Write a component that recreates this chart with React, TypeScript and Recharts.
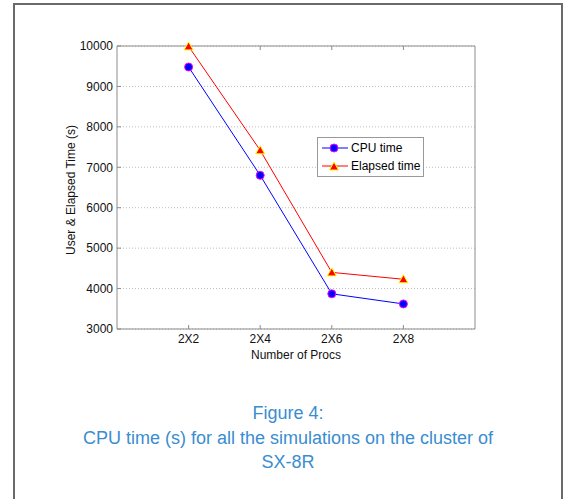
import { LineChart, Line, XAxis, YAxis, CartesianGrid, Legend } from 'recharts';

// processor layouts and measured times (seconds)
const procs = ['2X2', '2X4', '2X6', '2X8'];
const cpuTime = [9480, 6800, 3870, 3620];
const elapsedTime = [9990, 7420, 4400, 4230];
const yTicks = [3000, 4000, 5000, 6000, 7000, 8000, 9000, 10000];

const captionLines = [
  'Figure 4:',
  'CPU time (s) for all the simulations on the cluster of',
  'SX-8R',
];

const data = procs.map((p, i) => ({
  x: i + 1,
  proc: p,
  cpu: cpuTime[i],
  elapsed: elapsedTime[i],
}));

const FONT = '"Liberation Sans", Arial, Helvetica, sans-serif';
const AXIS = '#8c8c8c';

const CircleMark = ({ cx, cy }: { cx: number; cy: number }) => (
  <circle cx={cx} cy={cy} r={4} fill="#0000ff" stroke="#ff00ff" strokeWidth={1} />
);

const TriangleMark = ({ cx, cy }: { cx: number; cy: number }) => (
  <path
    d={`M${cx},${cy - 4.5} L${cx + 4.5},${cy + 3.5} L${cx - 4.5},${cy + 3.5} Z`}
    fill="#ff0000"
    stroke="#ffff00"
    strokeWidth={1}
  />
);

function LegendBox() {
  const rows = [
    { label: 'CPU time', color: '#0000ff', mark: 'circle' },
    { label: 'Elapsed time', color: '#ff0000', mark: 'triangle' },
  ];
  return (
    <div
      style={{
        boxSizing: 'border-box',
        width: 107,
        height: 40,
        border: '1px solid #999',
        background: '#fff',
        padding: '1px 0 0 3px',
        fontFamily: FONT,
        fontSize: 12,
        color: '#000',
        whiteSpace: 'nowrap',
      }}
    >
      {rows.map((r) => (
        <div key={r.label} style={{ display: 'flex', alignItems: 'center', height: 18 }}>
          <svg width={28} height={12} style={{ marginRight: 2, flexShrink: 0 }}>
            <line x1={1} y1={6} x2={27} y2={6} stroke={r.color} strokeWidth={1} />
            {r.mark === 'circle' ? (
              <CircleMark cx={13} cy={6} />
            ) : (
              <TriangleMark cx={13} cy={6.5} />
            )}
          </svg>
          <span>{r.label}</span>
        </div>
      ))}
    </div>
  );
}

export default function App() {
  return (
    <div
      style={{
        position: 'absolute',
        left: 0,
        top: 0,
        width: 565,
        height: 499,
        overflow: 'hidden',
        background: '#fff',
        fontFamily: FONT,
      }}
    >
      {/* page frame */}
      <div
        style={{
          position: 'absolute',
          left: 13,
          top: 3,
          width: 546,
          height: 600,
          border: '2px solid #6a6a6a',
        }}
      />

      <LineChart
        width={565}
        height={380}
        data={data}
        margin={{ top: 45, right: 89, left: 0, bottom: 21 }}
        style={{ position: 'absolute', left: 0, top: 0 }}
      >
        <CartesianGrid
          vertical={false}
          stroke="#bdbdbd"
          strokeDasharray="1 2"
          yAxisId="left"
        />
        <XAxis
          dataKey="x"
          type="number"
          domain={[0, 5]}
          ticks={[1, 2, 3, 4]}
          tickFormatter={(v: number) => procs[v - 1]}
          height={30}
          tickSize={-4}
          tickMargin={9}
          stroke={AXIS}
          tick={{ fontSize: 12, fill: '#111', fontFamily: FONT }}
        />
        <XAxis
          xAxisId="top"
          orientation="top"
          dataKey="x"
          type="number"
          domain={[0, 5]}
          ticks={[1, 2, 3, 4]}
          tickFormatter={() => ''}
          height={1}
          tickSize={-4}
          stroke={AXIS}
        />
        <YAxis
          yAxisId="left"
          domain={[3000, 10000]}
          ticks={yTicks}
          width={117}
          tickSize={-4}
          tickMargin={8}
          stroke={AXIS}
          tick={{ fontSize: 12, fill: '#111', fontFamily: FONT }}
        />
        <YAxis
          yAxisId="right"
          orientation="right"
          domain={[3000, 10000]}
          ticks={yTicks}
          tickFormatter={() => ''}
          width={1}
          tickSize={-4}
          stroke={AXIS}
        />
        <Legend
          layout="horizontal"
          verticalAlign="middle"
          align="center"
          content={() => <LegendBox />}
          wrapperStyle={{ left: 317, top: 137, width: 'auto' }}
        />
        <Line
          yAxisId="left"
          dataKey="cpu"
          name="CPU time"
          stroke="#0000ff"
          strokeWidth={1}
          dot={(p: any) => <CircleMark key={`c${p.index}`} cx={p.cx} cy={p.cy} />}
          isAnimationActive={false}
        />
        <Line
          yAxisId="left"
          dataKey="elapsed"
          name="Elapsed time"
          stroke="#ff0000"
          strokeWidth={1}
          dot={(p: any) => <TriangleMark key={`e${p.index}`} cx={p.cx} cy={p.cy} />}
          isAnimationActive={false}
        />
      </LineChart>

      {/* axis titles */}
      <div
        style={{
          position: 'absolute',
          left: 71,
          top: 190,
          transform: 'translate(-50%, -50%) rotate(-90deg)',
          whiteSpace: 'nowrap',
          fontSize: 12,
          color: '#111',
        }}
      >
        User &amp; Elapsed Time (s)
      </div>
      <div
        style={{
          position: 'absolute',
          left: 117,
          width: 358,
          top: 348,
          textAlign: 'center',
          fontSize: 12,
          color: '#111',
        }}
      >
        Number of Procs
      </div>

      {/* caption */}
      <div
        style={{
          position: 'absolute',
          left: 13,
          width: 550,
          top: 401,
          textAlign: 'center',
          fontSize: 18,
          lineHeight: '24.5px',
          color: '#3a8dd0',
        }}
      >
        {captionLines.map((l) => (
          <div key={l}>{l}</div>
        ))}
      </div>
    </div>
  );
}
